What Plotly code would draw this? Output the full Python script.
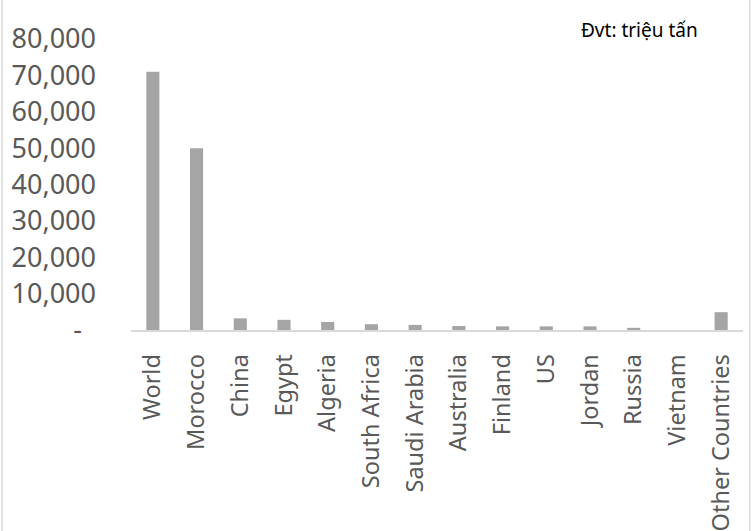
import plotly.graph_objects as go

categories = ["World", "Morocco", "China", "Egypt", "Algeria", "South Africa",
              "Saudi Arabia", "Australia", "Finland", "US", "Jordan", "Russia",
              "Vietnam", "Other Countries"]
reserves = [71000, 50000, 3200, 2800, 2200, 1600, 1400, 1100, 1000, 1000, 1000, 600, 0, 4900]
y_tickvals = [0, 10000, 20000, 30000, 40000, 50000, 60000, 70000, 80000]
y_ticktext = ["-\u00a0\u00a0", "10,000", "20,000", "30,000", "40,000", "50,000",
              "60,000", "70,000", "80,000"]
unit_label = "Đvt: triệu tấn"

fig = go.Figure(go.Bar(x=categories, y=reserves, marker_color="#A5A5A5",
                       marker_line_width=0))

font_family = "Noto Sans"
fig.update_layout(
    width=751, height=531,
    margin=dict(l=131, r=8, t=39, b=201, autoexpand=False),
    paper_bgcolor="white", plot_bgcolor="white",
    bargap=0.7,
    showlegend=False,
    font=dict(family=font_family, color="#595959"),
)
fig.update_yaxes(range=[0, 80000], tickvals=y_tickvals, ticktext=y_ticktext,
                 showgrid=False, zeroline=False, showline=False, automargin=False,
                 tickfont=dict(size=27, color="#595959"), ticklabelstandoff=34)
fig.update_xaxes(tickangle=-90, showline=True, linecolor="#D9D9D9", linewidth=1.5,
                 automargin=False,
                 tickfont=dict(size=23.5, color="#595959"), ticklabelstandoff=13,
                 showgrid=False)
fig.add_annotation(text=unit_label, xref="paper", yref="paper", x=(639 - 131) / 612,
                   xanchor="center", yanchor="middle",
                   y=1 + (39 - 30) / 291, showarrow=False,
                   font=dict(size=19, color="black", family=font_family))
fig.add_shape(type="rect", xref="paper", yref="paper",
              x0=(2 - 131) / 612, x1=(750 - 131) / 612,
              y0=(330 - 540) / 291, y1=(330 + 10) / 291,
              line=dict(color="#D9D9D9", width=1.5), fillcolor="rgba(0,0,0,0)")
fig.write_html("out.html", config={"displayModeBar": False},
               post_script="document.body.style.margin='0';")
